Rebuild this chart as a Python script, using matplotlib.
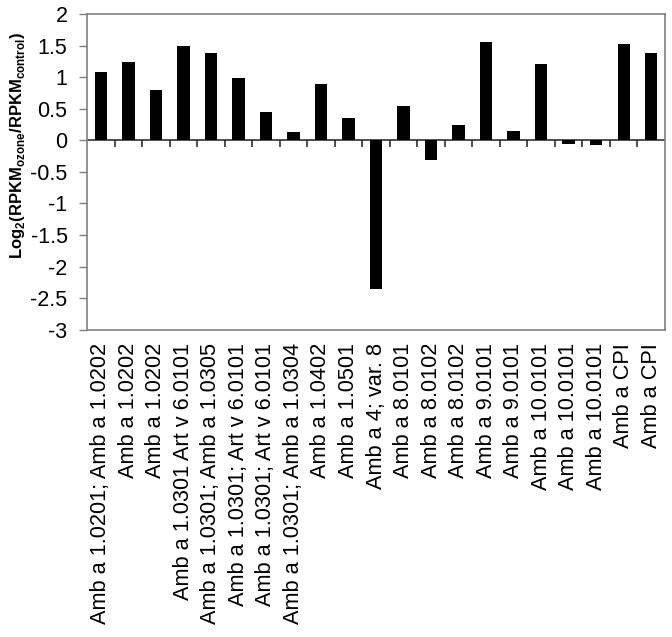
import matplotlib.pyplot as plt
import numpy as np

plt.rcParams['font.family'] = ['Liberation Sans', 'DejaVu Sans']
plt.rcParams['mathtext.fontset'] = 'custom'
plt.rcParams['mathtext.rm'] = 'Liberation Sans'
plt.rcParams['mathtext.bf'] = 'Liberation Sans:bold'

labels = [
    "Amb a 1.0201; Amb a 1.0202",
    "Amb a 1.0202",
    "Amb a 1.0202",
    "Amb a 1.0301 Art v 6.0101",
    "Amb a 1.0301; Amb a 1.0305",
    "Amb a 1.0301; Art v 6.0101",
    "Amb a 1.0301; Art v 6.0101",
    "Amb a 1.0301; Amb a 1.0304",
    "Amb a 1.0402",
    "Amb a 1.0501",
    "Amb a 4; var. 8",
    "Amb a 8.0101",
    "Amb a 8.0102",
    "Amb a 8.0102",
    "Amb a 9.0101",
    "Amb a 9.0101",
    "Amb a 10.0101",
    "Amb a 10.0101",
    "Amb a 10.0101",
    "Amb a CPI",
    "Amb a CPI",
]
log2_ratio = [1.08, 1.24, 0.80, 1.49, 1.38, 0.99, 0.45, 0.13, 0.89, 0.35,
              -2.36, 0.54, -0.31, 0.25, 1.56, 0.15, 1.21, -0.06, -0.08, 1.52, 1.38]

fig = plt.figure(figsize=(6.72, 6.37), dpi=100)
ax = fig.add_axes([0.1295, 0.4824, 0.8601, 0.4956])

x = np.arange(len(labels))
ax.bar(x, log2_ratio, width=0.45, color='black', zorder=3)

ax.set_xlim(-0.5, len(labels) - 0.5)
ax.set_ylim(-3, 2)
ax.set_yticks(np.arange(-3, 2.01, 0.5))
ax.set_yticklabels(['-3', '-2.5', '-2', '-1.5', '-1', '-0.5', '0', '0.5', '1', '1.5', '2'])

# zero line with category separators
ax.axhline(0, color='#303030', lw=1.2, zorder=2)
ax.vlines(np.arange(0.5, len(labels) - 1), -0.1, 0, color='#303030', lw=1.2, zorder=2)

ax.set_xticks(x)
ax.set_xticklabels(labels, rotation=90, fontsize=15.7)
ax.tick_params(axis='x', length=0, pad=9.5)
ax.tick_params(axis='y', labelsize=15.5, length=6, width=1, color='#808080', pad=8)

for s in ax.spines.values():
    s.set_color('#808080')
    s.set_linewidth(1.2)

ax.set_ylabel(r'Log$_\mathbf{2}$(RPKM$_\mathbf{ozone}$/RPKM$_\mathbf{control}$)',
              fontsize=12, fontweight='bold')
ax.yaxis.set_label_coords(-0.104, 0.582)

fig.savefig('out.png', dpi=100)
